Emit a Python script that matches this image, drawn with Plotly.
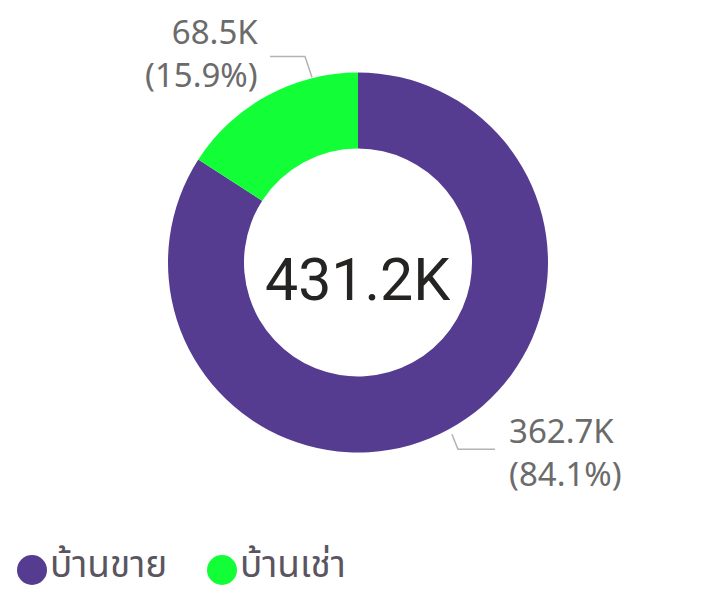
import math
import plotly.graph_objects as go

categories = ["บ้านขาย", "บ้านเช่า"]
values_k = [362.7, 68.5]
colors = ["#553C91", "#12FF37"]
total_k = sum(values_k)

# The page body adds an 8px margin, so the figure is drawn 8px in from the corner
OFF = 8
W, H = 710 - OFF, 595 - OFF
cx, cy, R = 358 - OFF, 262.5 - OFF, 190  # pie placement in pixels (figure coords)

def px(x):
    return x / W

def py(y):
    return 1 - y / H

fig = go.Figure()
fig.add_trace(go.Pie(
    labels=categories,
    values=values_k,
    hole=0.6,
    sort=False,
    direction="clockwise",
    rotation=0,
    marker=dict(colors=colors, line=dict(width=0)),
    textinfo="none",
    hoverinfo="label+value+percent",
    showlegend=False,
    domain=dict(x=[px(cx - R), px(cx + R)], y=[py(cy + R), py(cy - R)]),
))

label_font = dict(family="Segoe UI, Noto Sans, DejaVu Sans", size=33, color="#6B6B6B")

pcts = [v / total_k for v in values_k]

# purple (first slice): leader from mid-angle
a0 = (values_k[0] / 2) / total_k * 2 * math.pi
sx, sy = cx + R * math.sin(a0), cy - R * math.cos(a0)
fig.add_shape(type="path",
              path=f"M {px(sx+3)} {py(sy+5)} L {px(sx+9)} {py(sy+20)} L {px(sx+46)} {py(sy+20)}",
              xref="paper", yref="paper", line=dict(color="#B3B3B3", width=1.5))
fig.add_annotation(x=px(sx + 58), y=py(sy + 23), xref="paper", yref="paper",
                   text=f"{values_k[0]:.1f}K<br>({pcts[0]*100:.1f}%)",
                   showarrow=False, xanchor="left", yanchor="middle", align="left",
                   font=label_font)

# green (second slice): leader near the top of the slice
a1 = 2 * math.pi - 0.25
gx, gy = cx + R * math.sin(a1), cy - R * math.cos(a1)
fig.add_shape(type="path",
              path=f"M {px(gx+1)} {py(gy-1)} L {px(gx-6)} {py(gy-22)} L {px(gx-41)} {py(gy-22)}",
              xref="paper", yref="paper", line=dict(color="#B3B3B3", width=1.5))
fig.add_annotation(x=px(gx - 51), y=py(gy - 25), xref="paper", yref="paper",
                   text=f"{values_k[1]:.1f}K<br>({pcts[1]*100:.1f}%)",
                   showarrow=False, xanchor="right", yanchor="middle", align="right",
                   font=label_font)

# centre total
fig.add_annotation(x=px(cx), y=py(cy + 17), xref="paper", yref="paper",
                   text=f"{total_k:.1f}K", showarrow=False,
                   font=dict(family="Roboto, DejaVu Sans", size=59, color="#252423"))

# legend (circles + text)
leg_y = 570 - OFF
leg_font = dict(family="Tahoma, Noto Sans Thai, Noto Sans, DejaVu Sans", size=37, color="#5A5560")
legend_x = [32 - OFF, 222 - OFF]
for i, cat in enumerate(categories):
    lx = legend_x[i]
    r = 15
    fig.add_shape(type="circle", xref="paper", yref="paper",
                  x0=px(lx - r), x1=px(lx + r), y0=py(leg_y + r), y1=py(leg_y - r),
                  fillcolor=colors[i], line=dict(width=0))
    fig.add_annotation(x=px(lx + r + 2), y=0, xref="paper", yref="paper",
                       text=cat, showarrow=False, xanchor="left", yanchor="bottom",
                       borderpad=0, font=leg_font)

fig.update_layout(
    width=W, height=H,
    margin=dict(l=0, r=0, t=0, b=0),
    paper_bgcolor="white",
    plot_bgcolor="white",
)
fig.write_html("out.html")
